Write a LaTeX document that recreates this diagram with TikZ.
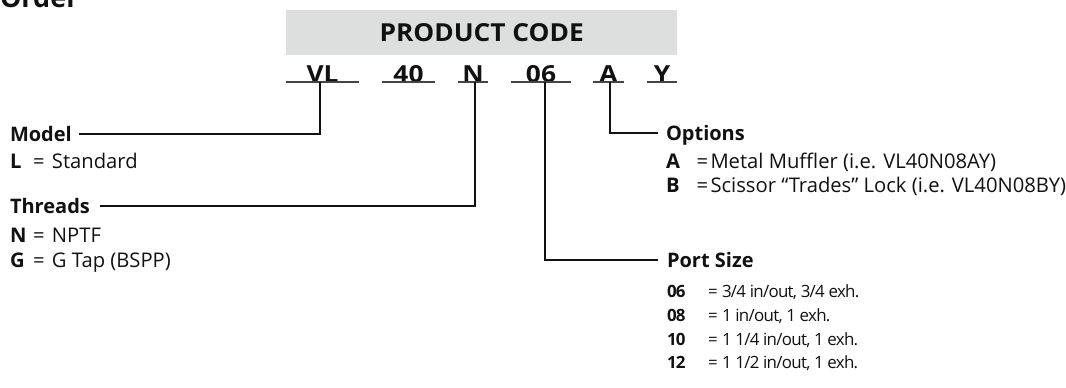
\documentclass[tikz,border=0pt]{standalone}
\usepackage{fontspec}
\setmainfont{Open Sans}
\newfontfamily\codefont[FakeStretch=1.12]{Open Sans}
\newfontfamily\bannerfont[FakeStretch=1.06]{Open Sans}
\usetikzlibrary{calc}
\definecolor{boxgrey}{HTML}{DDDEDE}
\definecolor{ink}{HTML}{111111}
\definecolor{rule}{HTML}{444444}
\newcommand{\fs}[1]{\fontsize{#1}{#1}\selectfont}
\newcommand{\entry}[4]{\makebox[#2][l]{\bfseries #1}\makebox[#3][l]{=}#4}
\begin{document}
\begin{tikzpicture}[x=1pt,y=-1pt,
  txt/.style={inner sep=0pt, outer sep=0pt, anchor=base west, text=ink},
  head/.style={txt, font=\fs{20}\bfseries, text height=14pt, text depth=0pt},
  item/.style={txt, font=\fs{20.2}},
  pitem/.style={txt, font=\fs{16.9}\addfontfeatures{LetterSpace=-4.2}},
  code/.style={inner sep=0pt, outer sep=0pt, anchor=south, font=\codefont\fs{23.5}\bfseries, text=ink, text depth=0pt, text height=17pt},
  uline/.style={draw=rule, line width=1.3pt},
  conn/.style={draw=ink, line width=1.2pt}]
\useasboundingbox (0,0) rectangle (1066,388);
\clip (0,0) rectangle (1066,388);
% title (partly cut off, as in the reference)
\node[txt, font=\fs{27}\bfseries] (title) at (0,7) {Order};
% product code banner
\node[fill=boxgrey, minimum width=391pt, minimum height=45pt, inner sep=0pt, anchor=north west,
  font=\bannerfont\fs{24.8}\bfseries, text=ink] (banner) at (286,9.5) {PRODUCT CODE};
% code letters with underlines
\node[code, minimum width=73pt] (vl) at (322.5,82) {VL};
\node[code, minimum width=53pt] (c40) at (408.5,82) {40};
\node[code, minimum width=30pt] (n) at (473,82) {N};
\node[code, minimum width=60pt] (c06) at (541,82) {06};
\node[code, minimum width=31pt] (a) at (608.5,82) {A};
\node[code, minimum width=30pt] (y) at (662,82) {Y};
\foreach \c in {vl,c40,n,c06,a,y}{\draw[uline] (\c.south west) -- (\c.south east);}
% left column
\node[head] (model) at (10,141) {Model};
\node[item] (modelL) at (10,168) {\entry{L}{23pt}{19pt}{Standard}};
\node[head] (threads) at (10,213) {Threads};
\node[item] (thrN) at (10,242) {\entry{N}{23pt}{19pt}{NPTF}};
\node[item] (thrG) at (10,267) {\entry{G}{23pt}{19pt}{G Tap (BSPP)}};
% options
\node[head] (options) at (666,140) {Options};
\node[item] (optA) at (666,168) {\entry{A}{30.5pt}{14pt}{Metal Muffler (i.e. VL40N08AY)}};
\node[item] (optB) at (666,192) {\entry{B}{30.5pt}{14pt}{Scissor “Trades” Lock (i.e. VL40N08BY)}};
% port size
\node[head] (port) at (667,267) {Port Size};
\node[pitem] (p06) at (667,297.5) {\entry{06}{41pt}{14pt}{3/4 in/out, 3/4 exh.}};
\node[pitem] (p08) at (667,321) {\entry{08}{41pt}{14pt}{1 in/out, 1 exh.}};
\node[pitem] (p10) at (667,345) {\entry{10}{41pt}{14pt}{1 1/4 in/out, 1 exh.}};
\node[pitem] (p12) at (667,368.5) {\entry{12}{41pt}{14pt}{1 1/2 in/out, 1 exh.}};
% connectors
\draw[conn] ([xshift=-2.5pt]vl.south) |- ([xshift=7pt]model.east);
\draw[conn] ([xshift=2pt]n.south) |- ([xshift=10pt]threads.east);
\draw[conn] ([xshift=4pt]c06.south) |- ([xshift=-9pt]port.west);
\draw[conn] ([xshift=1.5pt]a.south) |- ([xshift=-8pt]options.west);
\end{tikzpicture}
\end{document}
